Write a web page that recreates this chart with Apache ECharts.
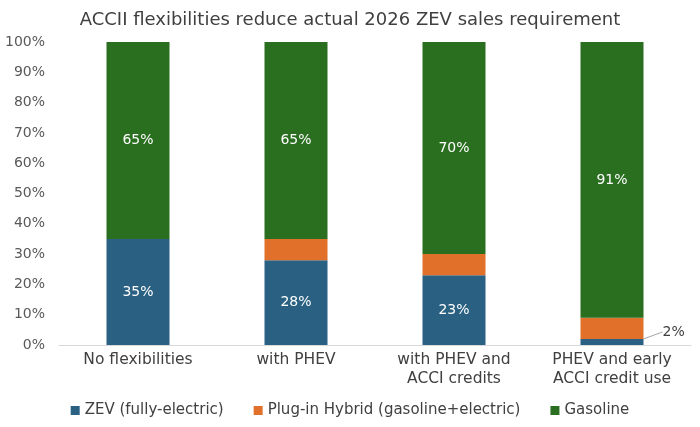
<!DOCTYPE html>
<html>
<head>
<meta charset="utf-8">
<script src="https://cdn.jsdelivr.net/npm/echarts@6/dist/echarts.min.js"></script>
<style>
  html, body { margin: 0; padding: 0; background: #fff; }
  #chart { width: 700px; height: 427px; }
</style>
</head>
<body>
<div id="chart"></div>
<script type="text/javascript">
  var categories = ['No flexibilities', 'with PHEV', 'with PHEV and\nACCI credits', 'PHEV and early\nACCI credit use'];
  var zevValues = [35, 28, 23, 2];
  var phevValues = [0, 7, 7, 7];
  var gasValues = [65, 65, 70, 91];
  var yTicks = [0, 10, 20, 30, 40, 50, 60, 70, 80, 90, 100];

  var font = '"DejaVu Sans", sans-serif';
  var chart = echarts.init(document.getElementById('chart'));

  chart.setOption({
    backgroundColor: '#fff',
    animation: false,
    textStyle: { fontFamily: font },
    title: {
      text: 'ACCII flexibilities reduce actual 2026 ZEV sales requirement',
      left: 'center',
      top: 6,
      textStyle: { fontSize: 18, fontWeight: 'normal', color: '#404040', fontFamily: font }
    },
    legend: {
      bottom: 4,
      left: 'center',
      itemWidth: 9,
      itemHeight: 9,
      itemGap: 30,
      itemTextGap: 3,
      icon: 'rect',
      textStyle: { fontSize: 15, color: '#404040', fontFamily: font }
    },
    grid: { left: 59, right: 9, top: 42, bottom: 82 },
    xAxis: {
      type: 'category',
      data: categories,
      axisTick: { show: false },
      axisLine: { lineStyle: { color: '#d9d9d9', width: 1 } },
      axisLabel: { fontSize: 15.5, color: '#404040', lineHeight: 19, margin: 5, fontFamily: font }
    },
    yAxis: {
      type: 'value',
      min: 0,
      max: 100,
      interval: 10,
      splitLine: { show: false },
      axisLine: { show: false },
      axisTick: { show: false },
      axisLabel: {
        fontSize: 14, color: '#595959', margin: 14, fontFamily: font,
        formatter: function (v) { return yTicks.indexOf(v) >= 0 ? v + '%' : ''; }
      }
    },
    series: [
      {
        name: 'ZEV (fully-electric)',
        type: 'bar',
        stack: 'total',
        barWidth: 63,
        itemStyle: { color: '#2a6183' },
        label: {
          show: true,
          color: '#fff',
          fontSize: 14,
          formatter: function (p) { return p.dataIndex === 3 ? '' : p.value + '%'; }
        },
        data: zevValues.map(function (v, i) {
          if (i !== 3) return v;
          return {
            value: v,
            label: {
              show: true, position: 'right', color: '#404040', fontSize: 14,
              formatter: '{c}%'
            }
          };
        }),
        labelLine: { show: true, lineStyle: { color: '#a6a6a6', width: 1 } },
        labelLayout: function (p) {
          if (p.dataIndex === 3) return { dx: 14, dy: -10 };
          return {};
        }
      },
      {
        name: 'Plug-in Hybrid (gasoline+electric)',
        type: 'bar',
        stack: 'total',
        itemStyle: { color: '#e0702a' },
        data: phevValues
      },
      {
        name: 'Gasoline',
        type: 'bar',
        stack: 'total',
        itemStyle: { color: '#2a6e20' },
        label: { show: true, color: '#fff', fontSize: 14, formatter: '{c}%' },
        data: gasValues
      }
    ]
  });
</script>
</body>
</html>
